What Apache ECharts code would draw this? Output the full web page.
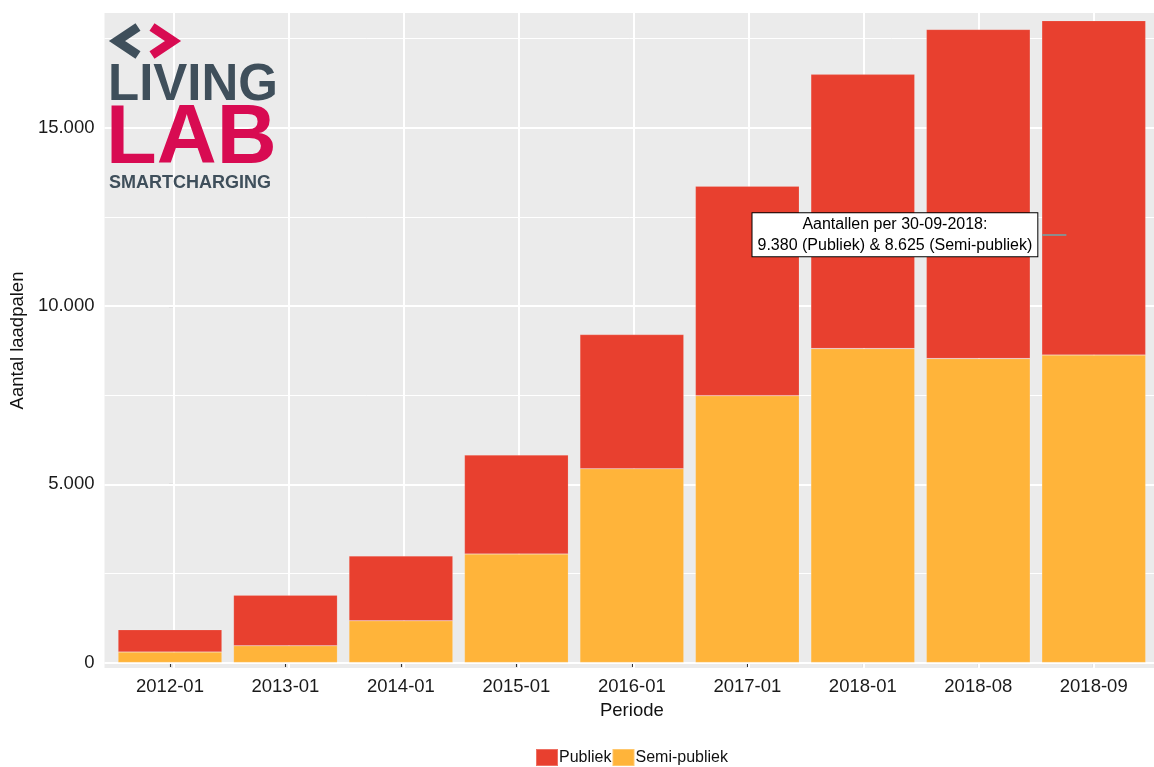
<!DOCTYPE html>
<html>
<head>
<meta charset="utf-8">
<script src="https://cdn.jsdelivr.net/npm/echarts@6/dist/echarts.min.js"></script>
<style>
html,body{margin:0;padding:0;background:#fff;}
#chart{width:1154px;height:767px;}
</style>
</head>
<body>
<div id="chart"></div>
<script>
// ---- data ----
const categories = ['2012-01','2013-01','2014-01','2015-01','2016-01','2017-01','2018-01','2018-08','2018-09'];
const semiPubliek = [295, 470, 1170, 3045, 5435, 7485, 8805, 8525, 8625];
const publiek     = [625, 1420, 1820, 2775, 3765, 5875, 7695, 9235, 9380];
const yTickValues = [0, 5000, 10000, 15000];
const yMinorValues = [2500, 7500, 12500, 17500];
const annotationLines = ['Aantallen per 30-09-2018:', '9.380 (Publiek) & 8.625 (Semi-publiek)'];
const annotationAt = [6.27, 12000];
const annotationSegmentStart = [7.55, 12000];
const annotationSegmentEnd = [7.76, 12000];

const FONT = '"Liberation Sans", Arial, sans-serif';
const RED = '#E8402F';
const ORANGE = '#FFB43A';
const PANEL = '#EBEBEB';

function fmt(v){ return String(v).replace(/\B(?=(\d{3})+(?!\d))/g, '.'); }

const idx = categories.map((c,i)=>i);
const chart = echarts.init(document.getElementById('chart'), null, {renderer:'canvas'});

// layout: panel grid and bar grid share the same vertical extent
const PANEL_LEFT = 100.7, BAND = 115.47, TOP = 13, BOTTOM = 99;
const Y_MIN = -154, Y_MAX = 18220;

const option = {
  backgroundColor: '#fff',
  animation: false,
  textStyle: {fontFamily: FONT},
  grid: [
    {left: PANEL_LEFT, right: 0, top: TOP, bottom: BOTTOM,
     show: true, backgroundColor: PANEL, borderWidth: 0},
    {left: PANEL_LEFT + 0.1 * BAND, width: 9 * BAND, top: TOP, bottom: BOTTOM,
     show: false}
  ],
  legend: {
    data: ['Publiek', 'Semi-publiek'],
    left: 535, top: 748, padding: 0,
    itemWidth: 22, itemHeight: 17, itemGap: 0,
    icon: 'rect',
    textStyle: {fontFamily: FONT, fontSize: 16, color: '#111', padding: [0,0,0,-4]}
  },
  xAxis: [
    {
      gridIndex: 0, type: 'value', min: -0.6, max: (1154 - PANEL_LEFT) / BAND - 0.6,
      show: false
    },
    {
      gridIndex: 1, type: 'category', data: categories, boundaryGap: true,
      name: 'Periode', nameLocation: 'middle', nameGap: 33,
      nameTextStyle: {fontFamily: FONT, fontSize: 18.5, color: '#111'},
      axisLine: {show: false},
      splitLine: {show: false},
      axisTick: {show: true, alignWithLabel: true, length: 4.5, lineStyle: {color: '#333', width: 1.1}},
      axisLabel: {margin: 9, fontFamily: FONT, fontSize: 18.5, color: '#1a1a1a', interval: 0}
    }
  ],
  yAxis: [
    {
      gridIndex: 0, type: 'value', min: Y_MIN, max: Y_MAX,
      name: 'Aantal laadpalen', nameLocation: 'middle', nameGap: 73,
      nameTextStyle: {fontFamily: FONT, fontSize: 18.5, color: '#111'},
      axisLine: {show: false},
      splitLine: {show: false},
      axisTick: {show: true, length: 4.5, customValues: yTickValues, lineStyle: {color: '#333', width: 1.1}},
      axisLabel: {customValues: yTickValues, margin: 10, fontFamily: FONT, fontSize: 18.5, color: '#1a1a1a',
        formatter: v => fmt(v)}
    },
    {
      gridIndex: 1, type: 'value', min: Y_MIN, max: Y_MAX, show: false,
      splitLine: {show: false}
    }
  ],
  series: [
    {
      name: 'gridlines', type: 'line', data: [], z: 1, silent: true,
      xAxisIndex: 0, yAxisIndex: 0,
      markLine: {
        z: 1, silent: true, symbol: 'none', animation: false, label: {show: false},
        data: [
          ...yMinorValues.map(v => ({yAxis: v, lineStyle: {color: '#fff', width: 1, type: 'solid'}})),
          ...yTickValues.map(v => ({yAxis: v, lineStyle: {color: '#fff', width: 2, type: 'solid'}})),
          ...idx.map(v => ({xAxis: v, lineStyle: {color: '#fff', width: 2, type: 'solid'}}))
        ]
      }
    },
    {
      name: 'Semi-publiek', type: 'bar', stack: 'total', z: 3,
      xAxisIndex: 1, yAxisIndex: 1,
      barWidth: '90%',
      itemStyle: {color: ORANGE, borderColor: 'rgba(255,255,255,0.25)', borderWidth: 0.6},
      data: semiPubliek
    },
    {
      name: 'Publiek', type: 'bar', stack: 'total', z: 3,
      xAxisIndex: 1, yAxisIndex: 1,
      barWidth: '90%',
      itemStyle: {color: RED, borderColor: 'rgba(255,255,255,0.25)', borderWidth: 0.6},
      data: publiek
    },
    {
      name: 'segment', type: 'line', data: [], z: 5, silent: true,
      xAxisIndex: 0, yAxisIndex: 0,
      markLine: {
        z: 5, silent: true, symbol: 'none', animation: false, label: {show: false},
        lineStyle: {color: '#8C8C8C', width: 2, type: 'solid'},
        data: [[{coord: annotationSegmentStart}, {coord: annotationSegmentEnd}]]
      }
    },
    {
      name: 'annotation', type: 'line', data: [], z: 6, silent: true,
      xAxisIndex: 0, yAxisIndex: 0,
      markPoint: {
        z: 6, silent: true, animation: false,
        symbol: 'circle', symbolSize: 0,
        label: {show: true, position: 'inside', fontFamily: FONT, fontSize: 16, lineHeight: 21, color: '#000',
          backgroundColor: '#fff', borderColor: '#000', borderWidth: 1, padding: [1, 5, 0, 5],
          formatter: annotationLines.join('\n')},
        data: [{coord: annotationAt}]
      }
    }
  ],
  graphic: [
    {type: 'polyline', z: 10, shape: {points: [[138,27],[117,41],[138,55]]},
     style: {stroke: '#3F4F5B', lineWidth: 9, fill: null, lineJoin: 'miter'}},
    {type: 'polyline', z: 10, shape: {points: [[152,27],[173,41],[152,55]]},
     style: {stroke: '#D80B52', lineWidth: 9, fill: null, lineJoin: 'miter'}},
    {type: 'text', z: 10, style: {x: 108, y: 86, text: 'LIVING', fill: '#3F4F5B',
      font: 'bold 51px ' + FONT, textAlign: 'left', textVerticalAlign: 'middle'}},
    {type: 'text', z: 10, style: {x: 106, y: 140, text: 'LAB', fill: '#D80B52',
      font: 'bold 83px ' + FONT, textAlign: 'left', textVerticalAlign: 'middle'}},
    {type: 'text', z: 10, style: {x: 109, y: 183, text: 'SMARTCHARGING', fill: '#3F4F5B',
      font: 'bold 18px ' + FONT, textAlign: 'left', textVerticalAlign: 'middle'}}
  ]
};
chart.setOption(option);
</script>
</body>
</html>
